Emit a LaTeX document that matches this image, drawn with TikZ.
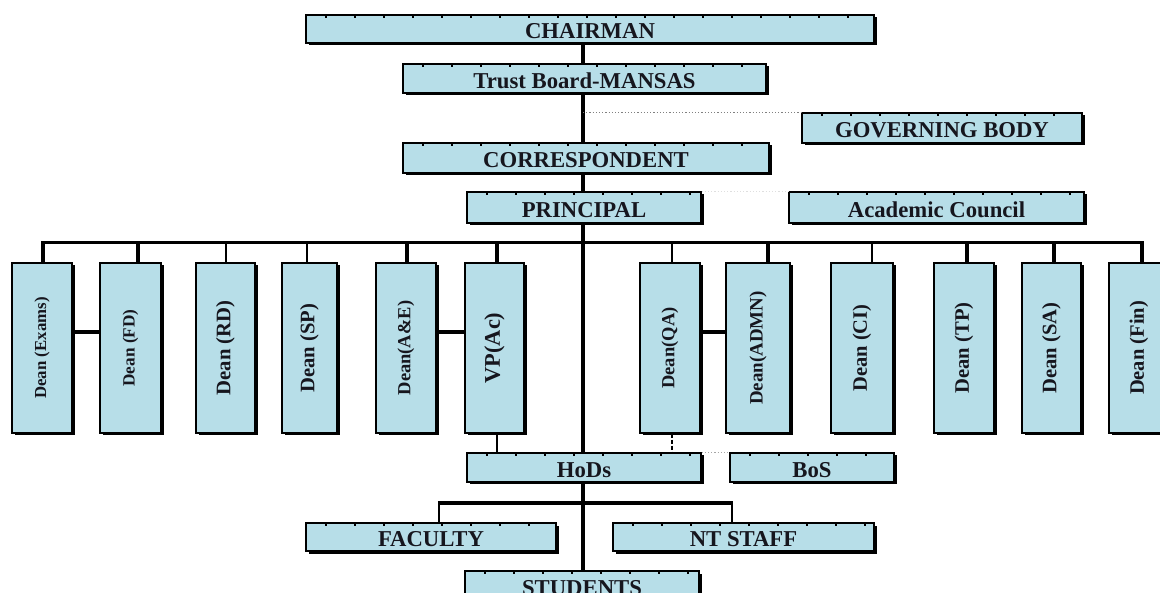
\documentclass[tikz,border=0pt]{standalone}
\usepackage{fontspec}
\setmainfont{Liberation Serif}
\usetikzlibrary{shadows}
\definecolor{boxblue}{HTML}{B7DEE8}
\definecolor{txt}{HTML}{16161E}
\newcommand\orgbox[6]{\node[hbox, minimum width={#4-#2-2}, minimum height={#5-#3-2}] (#1) at ({(#2+#4-2)/2},{(#3+#5-2)/2}) {#6};}
\newcommand\deanbox[5]{\node[vbox, minimum width={#3-#2-2}, minimum height=170,
  label={[rotate=90, inner sep=0pt, text=txt, font=\bfseries\fontsize{#4}{#4}\selectfont]center:#5}] (#1) at ({(#2+#3-2)/2},348) {};}
\begin{document}
\begin{tikzpicture}[x=1pt,y=-1pt,
  base/.style={draw=black, line width=1.2pt, fill=boxblue, inner sep=0pt, text=txt,
    font=\bfseries\fontsize{22.7}{24}\selectfont,
    drop shadow={shadow xshift=2.5pt, shadow yshift=-2.5pt, opacity=1, fill=black}},
  hbox/.style={base, text height=19.5pt, text depth=0pt,
    path picture={\foreach \k in {0,...,19}{\fill[black] ([xshift={19pt+\k*29pt}, yshift=-0.6pt]path picture bounding box.north west) rectangle ++(1.6pt,-2.4pt);}}},
  vbox/.style={base},
  trunk/.style={line width=3.5pt},
  busline/.style={line width=3pt},
  pairline/.style={line width=3.5pt},
  dotline/.style={line width=1.2pt, dotted}]
\useasboundingbox (0,0) rectangle (1160,593);
\clip (0,0) rectangle (1160,593);
\fill[white] (0,0) rectangle (1160,593);
% helper coordinates
\coordinate (tk) at (583,0);
\coordinate (busL) at (41,243);
\coordinate (busR) at (1144,243);
\coordinate (pr) at (0,332);
\coordinate (sbL) at (437.75,503);
\coordinate (sbR) at (733.25,503);
\coordinate (fx) at (439,0);
\coordinate (nx) at (732,0);
% boxes
\orgbox{chair}{306}{15}{876}{45}{CHAIRMAN}
\orgbox{trust}{403}{64}{768}{95}{Trust Board-MANSAS}
\orgbox{gov}{802}{113}{1084}{145}{GOVERNING BODY}
\orgbox{corr}{403}{143}{771}{175}{CORRESPONDENT}
\orgbox{prin}{467}{192}{703}{225}{PRINCIPAL}
\orgbox{acad}{789}{192}{1086}{225}{Academic Council}
\deanbox{dEx}{12}{74}{16.8}{Dean (Exams)}
\deanbox{dFD}{100}{163}{17.2}{Dean (FD)}
\deanbox{dRD}{196}{257}{20.7}{Dean (RD)}
\deanbox{dSP}{282}{339}{20.6}{Dean (SP)}
\deanbox{dAE}{376}{438}{18.5}{Dean(A\&E)}
\deanbox{dVP}{465}{526}{22.4}{VP(Ac)}
\deanbox{dQA}{640}{702}{18.5}{Dean(QA)}
\deanbox{dAD}{726}{792}{18.9}{Dean(ADMN)}
\deanbox{dCI}{831}{895}{20.5}{Dean (CI)}
\deanbox{dTP}{934}{996}{20.6}{Dean (TP)}
\deanbox{dSA}{1022}{1083}{20.6}{Dean (SA)}
\deanbox{dFin}{1109}{1171}{20.5}{Dean (Fin)}
\orgbox{hods}{467}{453}{703}{484}{HoDs}
\orgbox{bos}{730}{453}{896}{484}{BoS}
\orgbox{fac}{306}{523}{558}{553}{FACULTY}
\orgbox{nt}{613}{523}{876}{553}{NT STAFF}
\orgbox{stud}{465}{571}{701}{602}{STUDENTS}
% trunk
\draw[trunk] (chair.south -| tk) -- (trust.north -| tk);
\draw[trunk] (trust.south -| tk) -- (corr.north -| tk);
\draw[trunk] (corr.south -| tk) -- (prin.north -| tk);
\draw[trunk] (prin.south -| tk) -- (hods.north -| tk);
\draw[trunk] (hods.south -| tk) -- (stud.north -| tk);
% dotted links
\draw[dotline, gray] (gov.north west -| tk) -- (gov.north west);
\draw[dotline, gray!25] (prin.north east) -- (acad.north west);
\draw[dotline, gray!70, line width=1.6pt] (hods.north east) -- (bos.north west);
% dean bus
\draw[busline] (busL) -- (busR);
\foreach \n/\s/\w in {dEx/1/4, dFD/7.5/4, dRD/0/2, dSP/-2.5/2, dAE/1/4, dVP/2.5/4, dQA/2/2, dAD/10/4, dCI/10/2, dTP/3/4, dSA/2.5/4, dFin/3/4}
  \draw[line width=\w] ([xshift=\s pt]\n.north) -- ++(0,-20.5);
% pair links
\draw[pairline] (dEx.east |- pr) -- (dFD.west |- pr);
\draw[pairline] (dAE.east |- pr) -- (dVP.west |- pr);
\draw[pairline] (dQA.east |- pr) -- (dAD.west |- pr);
% links to HoDs
\draw[line width=1.2pt] ([xshift=2.5pt]dVP.south) -- ++(0,20);
\draw[line width=2.2pt, dash pattern=on 4pt off 2pt] ([xshift=2pt]dQA.south) -- ++(0,20);
% sub bus
\draw[line width=4pt] (sbL) -- (sbR);
\draw[line width=2.5pt] (fx |- sbL) -- (fx |- fac.north);
\draw[line width=2.5pt] (nx |- sbR) -- (nx |- nt.north);
\end{tikzpicture}
\end{document}
